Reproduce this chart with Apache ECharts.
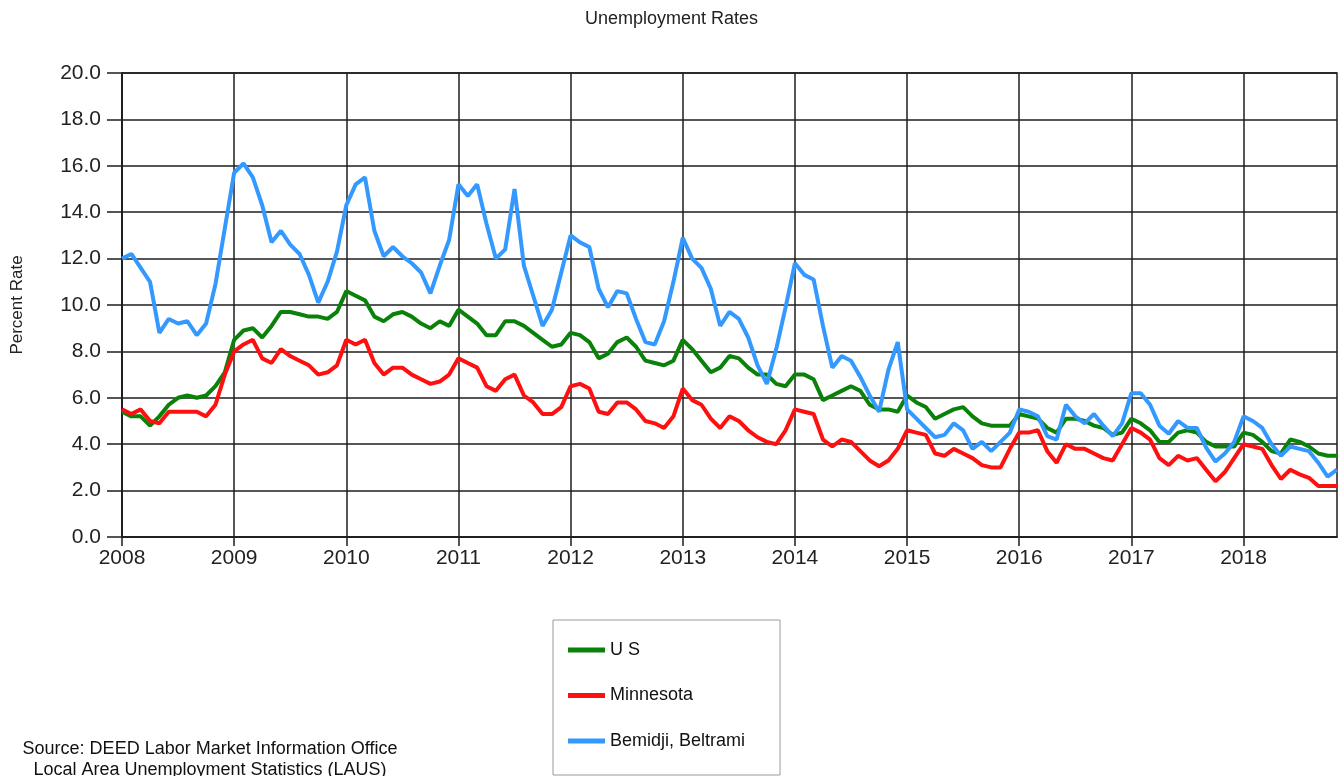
<!DOCTYPE html>
<html>
<head>
<meta charset="utf-8">
<script src="https://cdn.jsdelivr.net/npm/echarts@6/dist/echarts.min.js"></script>
<style>
  html, body { margin: 0; padding: 0; background: #ffffff; }
  #chart { width: 1343px; height: 776px; }
</style>
</head>
<body>
<div id="chart"></div>
<script>
// Monthly, Jan 2008 .. Nov 2018 (not seasonally adjusted), percent
const firstYear = 2008;
const monthCount = 131;
const seriesNames = ['U S', 'Minnesota', 'Bemidji, Beltrami'];

const usRate = [
  5.4, 5.2, 5.2, 4.8, 5.2, 5.7, 6.0, 6.1, 6.0, 6.1, 6.5, 7.1,
  8.5, 8.9, 9.0, 8.6, 9.1, 9.7, 9.7, 9.6, 9.5, 9.5, 9.4, 9.7,
  10.6, 10.4, 10.2, 9.5, 9.3, 9.6, 9.7, 9.5, 9.2, 9.0, 9.3, 9.1,
  9.8, 9.5, 9.2, 8.7, 8.7, 9.3, 9.3, 9.1, 8.8, 8.5, 8.2, 8.3,
  8.8, 8.7, 8.4, 7.7, 7.9, 8.4, 8.6, 8.2, 7.6, 7.5, 7.4, 7.6,
  8.5, 8.1, 7.6, 7.1, 7.3, 7.8, 7.7, 7.3, 7.0, 7.0, 6.6, 6.5,
  7.0, 7.0, 6.8, 5.9, 6.1, 6.3, 6.5, 6.3, 5.7, 5.5, 5.5, 5.4,
  6.1, 5.8, 5.6, 5.1, 5.3, 5.5, 5.6, 5.2, 4.9, 4.8, 4.8, 4.8,
  5.3, 5.2, 5.1, 4.7, 4.5, 5.1, 5.1, 5.0, 4.8, 4.7, 4.4, 4.5,
  5.1, 4.9, 4.6, 4.1, 4.1, 4.5, 4.6, 4.5, 4.1, 3.9, 3.9, 3.9,
  4.5, 4.4, 4.1, 3.7, 3.6, 4.2, 4.1, 3.9, 3.6, 3.5, 3.5
];

const minnesotaRate = [
  5.5, 5.3, 5.5, 5.0, 4.9, 5.4, 5.4, 5.4, 5.4, 5.2, 5.7, 7.0,
  8.0, 8.3, 8.5, 7.7, 7.5, 8.1, 7.8, 7.6, 7.4, 7.0, 7.1, 7.4,
  8.5, 8.3, 8.5, 7.5, 7.0, 7.3, 7.3, 7.0, 6.8, 6.6, 6.7, 7.0,
  7.7, 7.5, 7.3, 6.5, 6.3, 6.8, 7.0, 6.1, 5.8, 5.3, 5.3, 5.6,
  6.5, 6.6, 6.4, 5.4, 5.3, 5.8, 5.8, 5.5, 5.0, 4.9, 4.7, 5.2,
  6.4, 5.9, 5.7, 5.1, 4.7, 5.2, 5.0, 4.6, 4.3, 4.1, 4.0, 4.6,
  5.5, 5.4, 5.3, 4.2, 3.9, 4.2, 4.1, 3.7, 3.3, 3.05, 3.3, 3.8,
  4.6, 4.5, 4.4, 3.6, 3.5, 3.8, 3.6, 3.4, 3.1, 3.0, 3.0, 3.8,
  4.5, 4.5, 4.6, 3.7, 3.2, 4.0, 3.8, 3.8, 3.6, 3.4, 3.3, 4.0,
  4.7, 4.5, 4.2, 3.4, 3.1, 3.5, 3.3, 3.4, 2.9, 2.4, 2.8, 3.4,
  4.0, 3.9, 3.8, 3.1, 2.5, 2.9, 2.7, 2.55, 2.2, 2.2, 2.2
];

const bemidjiRate = [
  12.0, 12.2, 11.6, 11.0, 8.8, 9.4, 9.2, 9.3, 8.7, 9.2, 10.9, 13.3,
  15.7, 16.1, 15.5, 14.3, 12.7, 13.2, 12.6, 12.2, 11.3, 10.1, 11.0, 12.3,
  14.3, 15.2, 15.5, 13.2, 12.1, 12.5, 12.1, 11.8, 11.4, 10.5, 11.7, 12.8,
  15.2, 14.7, 15.2, 13.5, 12.0, 12.4, 15.0, 11.7, 10.4, 9.1, 9.8, 11.4,
  13.0, 12.7, 12.5, 10.7, 9.9, 10.6, 10.5, 9.4, 8.4, 8.3, 9.3, 11.0,
  12.9, 12.0, 11.6, 10.7, 9.1, 9.7, 9.4, 8.6, 7.4, 6.6, 8.1, 9.9,
  11.8, 11.3, 11.1, 9.1, 7.3, 7.8, 7.6, 6.9, 6.1, 5.4, 7.2, 8.4,
  5.5, 5.1, 4.7, 4.3, 4.4, 4.9, 4.6, 3.8, 4.1, 3.7, 4.1, 4.5,
  5.5, 5.4, 5.2, 4.35, 4.2, 5.7, 5.2, 4.9, 5.3, 4.8, 4.35, 4.9,
  6.2, 6.2, 5.7, 4.8, 4.45, 5.0, 4.7, 4.7, 3.85, 3.25, 3.6, 4.1,
  5.2, 5.0, 4.7, 4.0, 3.5, 3.9, 3.8, 3.7, 3.2, 2.6, 2.9
];

const yTickMin = 0;
const yTickMax = 20;
const yTickStep = 2;

const titleText = 'Unemployment Rates';
const yAxisTitle = 'Percent Rate';
const sourceLines = ['Source: DEED Labor Market Information Office', 'Local Area Unemployment Statistics (LAUS)'];

// month categories "YYYY-MM"
const monthLabels = [];
for (let i = 0; i < monthCount; i++) {
  const y = firstYear + Math.floor(i / 12);
  const m = (i % 12) + 1;
  monthLabels.push(y + '-' + (m < 10 ? '0' + m : m));
}

const FONT = '"Liberation Sans", Arial, sans-serif';
const GRIDLINE = '#1e1e1e';
const yearStart = function (idx) { return idx % 12 === 0; };

const chart = echarts.init(document.getElementById('chart'), null, { renderer: 'canvas' });

chart.setOption({
  backgroundColor: '#ffffff',
  animation: false,
  title: {
    text: titleText,
    left: 'center',
    top: 10,
    padding: 0,
    textStyle: { fontFamily: FONT, fontSize: 18, fontWeight: 'normal', color: '#222' }
  },
  legend: {
    orient: 'vertical',
    left: 553,
    top: 620,
    padding: [20, 35, 24, 15],
    itemGap: 25.5,
    itemWidth: 37,
    itemHeight: 5,
    icon: 'rect',
    borderColor: '#9a9a9a',
    borderWidth: 1,
    data: seriesNames,
    textStyle: { fontFamily: FONT, fontSize: 18, color: '#111', lineHeight: 20 }
  },
  grid: {
    left: 122,
    right: 6,
    top: 73,
    bottom: 239,
    show: true,
    borderColor: GRIDLINE,
    borderWidth: 1.5,
    backgroundColor: 'transparent'
  },
  xAxis: {
    type: 'category',
    data: monthLabels,
    boundaryGap: false,
    axisLine: { show: true, lineStyle: { color: GRIDLINE, width: 1.5 } },
    axisTick: { show: true, interval: yearStart, length: 9, lineStyle: { color: GRIDLINE, width: 1.5 } },
    axisLabel: {
      interval: yearStart,
      margin: 11,
      fontFamily: FONT,
      fontSize: 21,
      color: '#222',
      formatter: function (v) { return v.slice(0, 4); }
    },
    splitLine: { show: true, interval: yearStart, lineStyle: { color: GRIDLINE, width: 1.5 } }
  },
  yAxis: {
    type: 'value',
    min: yTickMin,
    max: yTickMax,
    interval: yTickStep,
    name: yAxisTitle,
    nameLocation: 'middle',
    nameRotate: 90,
    nameGap: 96,
    nameTextStyle: { fontFamily: FONT, fontSize: 17, color: '#222' },
    axisLine: { show: true, lineStyle: { color: GRIDLINE, width: 1.5 } },
    axisTick: { show: true, length: 15, lineStyle: { color: GRIDLINE, width: 1.5 } },
    axisLabel: {
      margin: 21,
      fontFamily: FONT,
      fontSize: 21,
      color: '#222',
      formatter: function (v) { return v.toFixed(1); }
    },
    splitLine: { show: true, lineStyle: { color: GRIDLINE, width: 1.5 } }
  },
  graphic: [{
    type: 'text',
    x: 210,
    y: 739,
    style: {
      text: sourceLines.join('\n'),
      align: 'center',
      verticalAlign: 'top',
      fontFamily: FONT,
      fontSize: 18,
      lineHeight: 21,
      fill: '#111'
    }
  }],
  series: [
    {
      name: seriesNames[0], type: 'line', data: usRate,
      showSymbol: false, symbol: 'none',
      lineStyle: { color: '#0a820a', width: 4 }, itemStyle: { color: '#0a820a' }
    },
    {
      name: seriesNames[1], type: 'line', data: minnesotaRate,
      showSymbol: false, symbol: 'none',
      lineStyle: { color: '#ff1010', width: 4 }, itemStyle: { color: '#ff1010' }
    },
    {
      name: seriesNames[2], type: 'line', data: bemidjiRate,
      showSymbol: false, symbol: 'none',
      lineStyle: { color: '#3399ff', width: 4 }, itemStyle: { color: '#3399ff' }
    }
  ]
});
</script>
</body>
</html>
